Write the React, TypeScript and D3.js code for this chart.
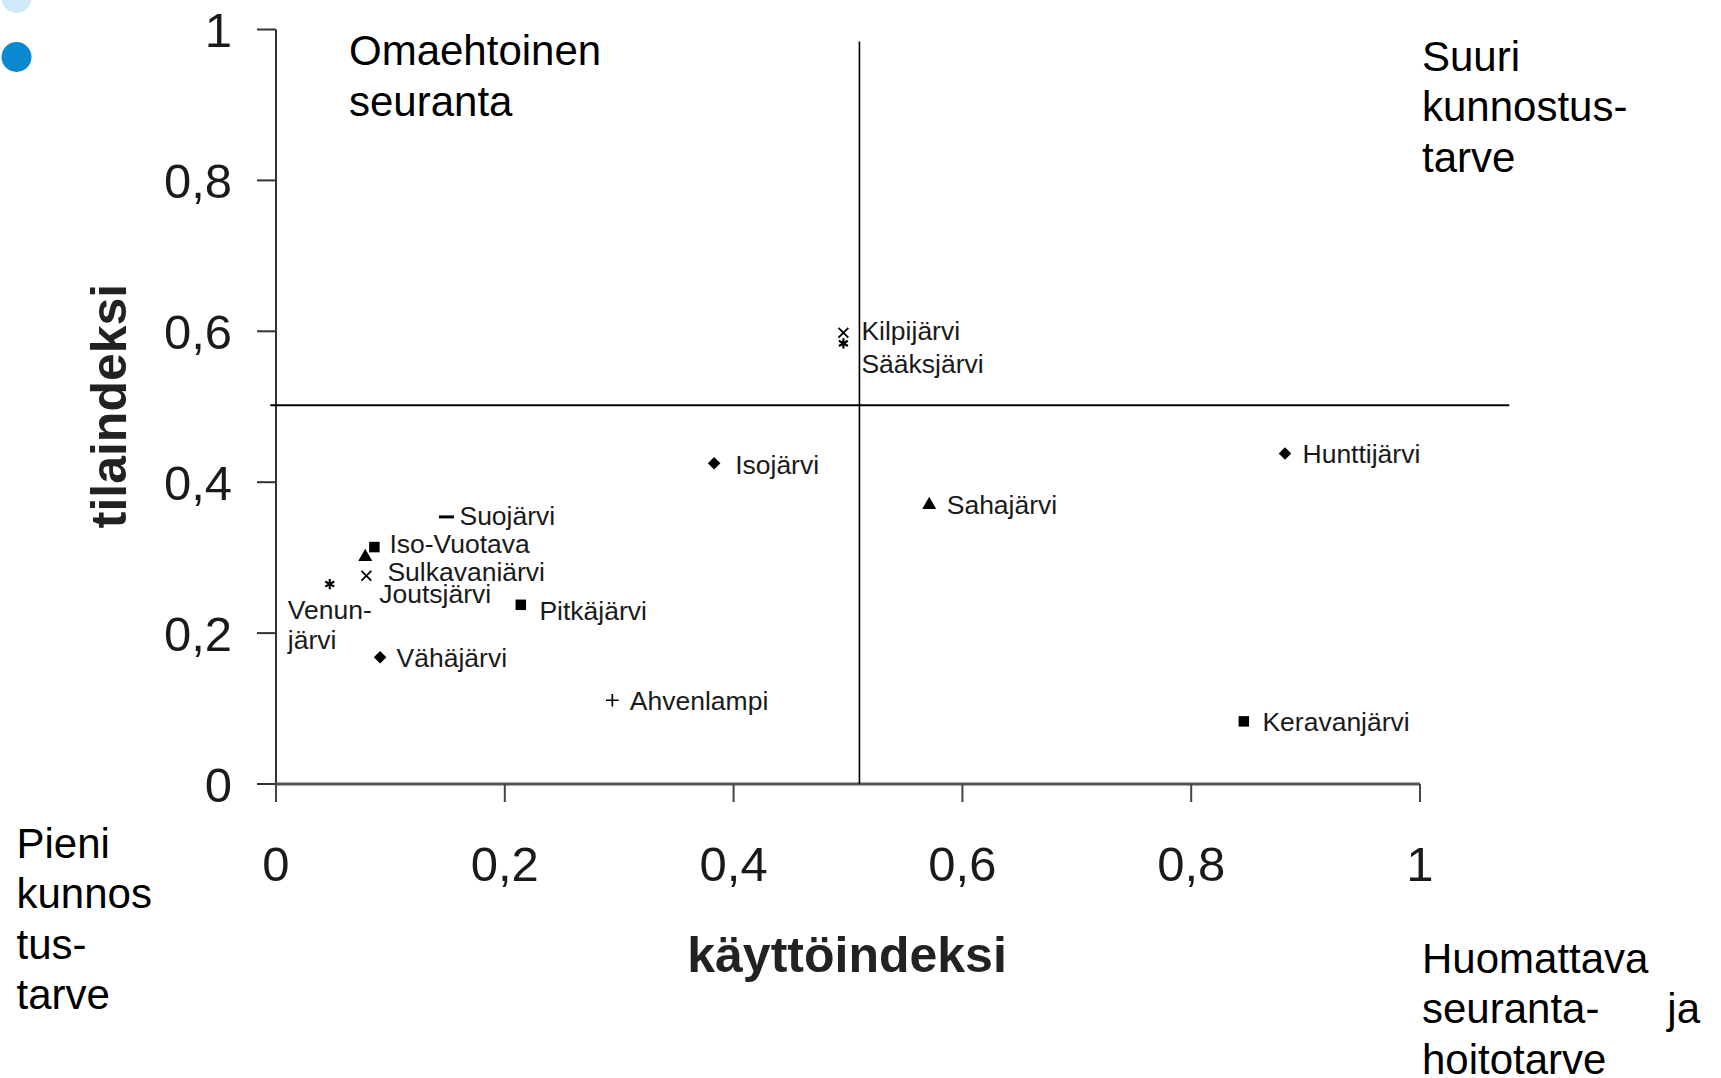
import React from "react";
import * as d3 from "d3";

// ---------- DATA ----------
const lakes = [
  "Kilpijärvi", "Sääksjärvi", "Isojärvi", "Hunttijärvi", "Sahajärvi", "Suojärvi",
  "Iso-Vuotava", "Sulkavanjärvi", "Joutsjärvi", "Venunjärvi", "Pitkäjärvi",
  "Vähäjärvi", "Ahvenlampi", "Keravanjärvi",
];
const kayttoindeksi = [0.496, 0.496, 0.383, 0.882, 0.571, 0.149, 0.086, 0.079, 0.078, 0.047, 0.214, 0.091, 0.294, 0.846];
const tilaindeksi = [0.598, 0.584, 0.425, 0.438, 0.370, 0.354, 0.314, 0.276, 0.301, 0.265, 0.2375, 0.168, 0.111, 0.083];
const markerShapes = ["times", "asterisk", "diamond", "diamond", "triangle", "dash", "square", "times", "triangle", "asterisk", "square", "diamond", "plus", "square"];
const labelLines: string[][] = [
  ["Kilpijärvi"], ["Sääksjärvi"], ["Isojärvi"], ["Hunttijärvi"], ["Sahajärvi"], ["Suojärvi"],
  ["Iso-Vuotava"], ["Sulkavanjärvi"], ["Joutsjärvi"], ["Venun-", "järvi"], ["Pitkäjärvi"],
  ["Vähäjärvi"], ["Ahvenlampi"], ["Keravanjärvi"],
];
const xTicks = [0, 0.2, 0.4, 0.6, 0.8, 1];
const yTicks = [0, 0.2, 0.4, 0.6, 0.8, 1];
const xTickLabels = ["0", "0,2", "0,4", "0,6", "0,8", "1"];
const yTickLabels = ["0", "0,2", "0,4", "0,6", "0,8", "1"];
const xTitle = "käyttöindeksi";
const yTitle = "tilaindeksi";
const dividerX = 0.51;
const dividerY = 0.502;
const dividerXSpan = [-0.005, 1.078];
const dividerYSpan = [0, 0.984];
const quadrantTopLeft = ["Omaehtoinen", "seuranta"];
const quadrantTopRight = ["Suuri", "kunnostus-", "tarve"];
const quadrantBottomLeft = ["Pieni", "kunnos", "tus-", "tarve"];
const quadrantBottomRight = ["Huomattava", "seuranta-", "hoitotarve"];
const quadrantBottomRightJa = "ja";

// ---------- LAYOUT ----------
const W = 1721;
const H = 1078;
const plot = { left: 276, right: 1420, top: 29.5, bottom: 784 };
const FONT = "Arial, 'Liberation Sans', Helvetica, sans-serif";
const labelFont = 26.5;
const tickFont = 49;
const titleFont = 50;
const quadFont = 42;
const quadLH = 50.5;

// label offsets in px from marker: [dx, dy-of-first-line, opaque background]
const labelOffsets: Record<string, [number, number, boolean?]> = {
  "Kilpijärvi": [18, -2],
  "Sääksjärvi": [18, 20],
  "Isojärvi": [21, 1],
  "Hunttijärvi": [17.5, 0],
  "Sahajärvi": [17.5, 0],
  "Suojärvi": [13, -1],
  "Iso-Vuotava": [15, -3],
  "Sulkavanjärvi": [21, -4.5],
  "Joutsjärvi": [14, 37, true],
  "Venunjärvi": [-42, 26],
  "Pitkäjärvi": [18.6, 5.5],
  "Vähäjärvi": [16.5, 0],
  "Ahvenlampi": [17.5, 0],
  "Keravanjärvi": [18.6, 0],
};

function markerPath(shape: string): { d: string; fill: boolean; sw: number } {
  switch (shape) {
    case "diamond":
      return { d: d3.symbol(d3.symbolDiamond2, 100)()!, fill: true, sw: 0 };
    case "square":
      return { d: d3.symbol(d3.symbolSquare, 110)()!, fill: true, sw: 0 };
    case "triangle":
      return { d: d3.symbol(d3.symbolTriangle, 85)()!, fill: true, sw: 0 };
    case "plus":
      return { d: d3.symbol(d3.symbolPlus, 55)()!, fill: false, sw: 1.7 };
    case "times":
      return { d: d3.symbol(d3.symbolTimes, 65)()!, fill: false, sw: 1.8 };
    case "asterisk":
      return { d: d3.symbol(d3.symbolAsterisk, 75)()!, fill: false, sw: 2.2 };
    case "dash":
      return { d: "M-7.5,0L7.5,0", fill: false, sw: 3 };
    default:
      return { d: d3.symbol(d3.symbolCircle, 60)()!, fill: true, sw: 0 };
  }
}

export default function App() {
  const x = d3.scaleLinear().domain([0, 1]).range([plot.left, plot.right]);
  const y = d3.scaleLinear().domain([0, 1]).range([plot.bottom, plot.top]);
  const points = lakes.map((name, i) => ({
    name,
    px: x(kayttoindeksi[i]),
    py: y(tilaindeksi[i]),
    shape: markerShapes[i],
    lines: labelLines[i],
  }));
  const cap = 0.355 * labelFont;

  return (
    <svg
      width={W}
      height={H}
      viewBox={`0 0 ${W} ${H}`}
      style={{ position: "absolute", left: 0, top: 0, background: "#fff" }}
      fontFamily={FONT}
    >
      <rect x={0} y={0} width={W} height={H} fill="#fff" />
      {/* decorative bullets */}
      <circle cx={16.5} cy={-2} r={15} fill="#cfe9f6" />
      <circle cx={16.5} cy={57} r={15} fill="#0a88d0" />

      {/* y axis */}
      <line x1={x(0)} x2={x(0)} y1={y(1)} y2={y(0)} stroke="#333" strokeWidth={2} />
      {yTicks.map((t, i) => (
        <g key={"yt" + i}>
          <line x1={x(0) - 19} x2={x(0)} y1={y(t)} y2={y(t)} stroke="#333" strokeWidth={2} />
          <text x={232} y={y(t) + 0.358 * tickFont} textAnchor="end" fontSize={tickFont} fill="#1a1a1a">
            {yTickLabels[i]}
          </text>
        </g>
      ))}
      {/* x axis */}
      <line x1={x(0)} x2={x(1)} y1={y(0)} y2={y(0)} stroke="#555" strokeWidth={3} />
      {xTicks.map((t, i) => (
        <g key={"xt" + i}>
          <line x1={x(t)} x2={x(t)} y1={y(0)} y2={y(0) + 18} stroke="#444" strokeWidth={2} />
          <text x={x(t)} y={881} textAnchor="middle" fontSize={tickFont} fill="#1a1a1a">
            {xTickLabels[i]}
          </text>
        </g>
      ))}

      {/* quadrant dividers */}
      <line x1={x(dividerX)} x2={x(dividerX)} y1={y(dividerYSpan[0])} y2={y(dividerYSpan[1])} stroke="#000" strokeWidth={1.6} />
      <line x1={x(dividerXSpan[0])} x2={x(dividerXSpan[1])} y1={y(dividerY)} y2={y(dividerY)} stroke="#000" strokeWidth={1.8} />

      {/* markers */}
      {points.map((p) => {
        const m = markerPath(p.shape);
        return (
          <path
            key={"m" + p.name}
            d={m.d}
            transform={`translate(${p.px},${p.py})`}
            fill={m.fill ? "#000" : "none"}
            stroke="#000"
            strokeWidth={m.fill ? 0 : m.sw}
          />
        );
      })}

      {/* labels */}
      {points.map((p) => {
        const off = labelOffsets[p.name] || [18, 0];
        const lx = p.px + off[0];
        const ly = p.py + off[1];
        const opaque = off[2];
        const wEst = Math.max(...p.lines.map((l) => l.length)) * 0.5 * labelFont;
        return (
          <g key={"l" + p.name}>
            {opaque && (
              <rect x={lx - 2} y={ly - labelFont * 0.48} width={wEst} height={labelFont * 0.96} fill="#fff" />
            )}
            {p.lines.map((line, j) => (
              <text key={j} x={lx} y={ly + j * 30 + cap} fontSize={labelFont} fill="#1a1a1a">
                {line}
              </text>
            ))}
          </g>
        );
      })}

      {/* axis titles */}
      <text x={847} y={972} textAnchor="middle" fontSize={titleFont} fontWeight="bold" fill="#222">
        {xTitle}
      </text>
      <text
        transform={`translate(126,406) rotate(-90)`}
        textAnchor="middle"
        fontSize={titleFont}
        fontWeight="bold"
        fill="#222"
      >
        {yTitle}
      </text>

      {/* quadrant texts */}
      {quadrantTopLeft.map((l, i) => (
        <text key={"q1" + i} x={349} y={65 + i * quadLH} fontSize={quadFont} fill="#000">{l}</text>
      ))}
      {quadrantTopRight.map((l, i) => (
        <text key={"q2" + i} x={1422} y={70.5 + i * quadLH} fontSize={quadFont} fill="#000">{l}</text>
      ))}
      {quadrantBottomLeft.map((l, i) => (
        <text key={"q3" + i} x={16.5} y={857.5 + i * quadLH} fontSize={quadFont} fill="#000">{l}</text>
      ))}
      {quadrantBottomRight.map((l, i) => (
        <text key={"q4" + i} x={1422} y={972.5 + i * quadLH} fontSize={quadFont} fill="#000">{l}</text>
      ))}
      <text x={1700} y={972.5 + quadLH} textAnchor="end" fontSize={quadFont} fill="#000">
        {quadrantBottomRightJa}
      </text>
    </svg>
  );
}
